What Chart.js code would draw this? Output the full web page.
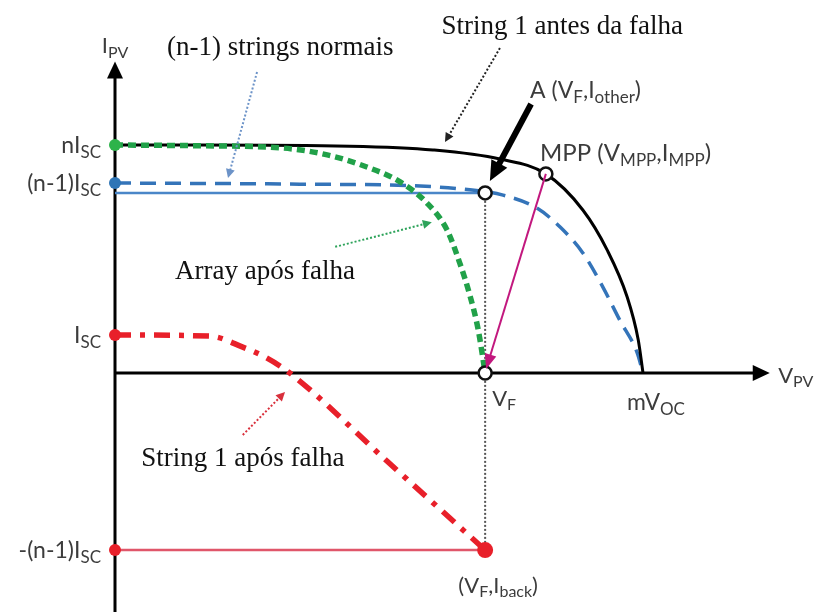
<!DOCTYPE html>
<html>
<head>
<meta charset="utf-8">
<script src="https://cdn.jsdelivr.net/npm/chart.js@4.4.1/dist/chart.umd.min.js"></script>
<style>
  html, body { margin: 0; background: #fff; }
  #wrap { width: 817px; height: 612px; }
</style>
</head>
<body>
<div id="wrap"><canvas id="iv-chart"></canvas></div>
<script>
/* Curvas I-V do arranjo: V em % de mVoc, I em múltiplos de Isc */

// String 1 antes da falha (curva do arranjo completo)
const vBefore = [0, 16, 44.5, 60.2, 72.9, 81.6, 88.6, 93.2, 97.0, 99.1, 100];
const iBefore = [6, 6, 5.97, 5.87, 5.63, 5.24, 4.29, 3.24, 2.0, 0.87, 0];

// (n-1) strings normais
const vNormal = [0, 35, 57.8, 67.2, 73.5, 79.9, 84.3, 88.6, 92.4, 95.6, 98.9, 100];
const iNormal = [5, 4.97, 4.92, 4.82, 4.68, 4.34, 3.84, 3.16, 2.26, 1.39, 0.53, 0];

// Array após falha
const vArray = [0, 16, 31.8, 40.2, 47.7, 54.0, 59.1, 62.9, 65.3, 67.2, 68.8, 70.1];
const iArray = [6, 5.98, 5.92, 5.74, 5.42, 5.03, 4.47, 3.76, 2.89, 2.05, 1.13, 0];

// String 1 após falha
const vString1 = [0, 18, 24.2, 28.8, 33.1, 51.6, 70.1];
const iString1 = [1, 0.97, 0.68, 0.39, 0, -2.33, -4.66];

// Pontos notáveis
const vF = 70.1;
const mVoc = 100;
const vMpp = 81.6;
const iMpp = 5.24;
const iOther = 4.74;
const iBack = -4.66;

// Marcas do eixo de corrente
const iTicks = [6, 5, 1, -4.66];
const iTickLabels = [
  [['nI', 0], ['SC', 1]],
  [['(n-1)I', 0], ['SC', 1]],
  [['I', 0], ['SC', 1]],
  [['-(n-1)I', 0], ['SC', 1]]
];
const iTickColors = ['#2DB34A', '#2E75B6', '#E8202A', '#E8202A'];

const SANS = 'Lato, "Liberation Sans", sans-serif';
const SERIF = '"Liberation Serif", "DejaVu Serif", serif';

const xy = (xs, ys) => xs.map((x, k) => ({ x, y: ys[k] }));

/* ── Texto com subscritos ── */
function richText(ctx, parts, x, y, align, size, color, family) {
  const subSize = Math.round(size * 0.72);
  let w = 0;
  parts.forEach(p => {
    ctx.font = (p[1] ? subSize : size) + 'px ' + family;
    w += ctx.measureText(p[0]).width;
  });
  let cx = align === 'right' ? x - w : align === 'center' ? x - w / 2 : x;
  const base = y + size * 0.35;
  ctx.fillStyle = color;
  ctx.textAlign = 'left';
  ctx.textBaseline = 'alphabetic';
  parts.forEach(p => {
    ctx.font = (p[1] ? subSize : size) + 'px ' + family;
    ctx.fillText(p[0], cx, base + (p[1] ? size * 0.2 : 0));
    cx += ctx.measureText(p[0]).width;
  });
}

/* ── Seta com ponta triangular ── */
function arrow(ctx, x1, y1, x2, y2, o) {
  const ang = Math.atan2(y2 - y1, x2 - x1);
  const hl = o.head || 8, hw = o.headW || hl * 0.5;
  ctx.save();
  ctx.strokeStyle = o.color;
  ctx.fillStyle = o.color;
  ctx.lineWidth = o.width || 1.5;
  ctx.setLineDash(o.dash || []);
  ctx.beginPath();
  ctx.moveTo(x1, y1);
  ctx.lineTo(x2 - Math.cos(ang) * hl * 0.8, y2 - Math.sin(ang) * hl * 0.8);
  ctx.stroke();
  ctx.setLineDash([]);
  ctx.beginPath();
  ctx.moveTo(x2, y2);
  ctx.lineTo(x2 - Math.cos(ang) * hl + Math.sin(ang) * hw, y2 - Math.sin(ang) * hl - Math.cos(ang) * hw);
  ctx.lineTo(x2 - Math.cos(ang) * hl - Math.sin(ang) * hw, y2 - Math.sin(ang) * hl + Math.cos(ang) * hw);
  ctx.closePath();
  ctx.fill();
  ctx.restore();
}

/* ── Eixos com setas (desenhados antes das curvas) ── */
const axesPlugin = {
  id: 'ivAxes',
  beforeDatasetsDraw(chart) {
    const { ctx, scales: { x, y } } = chart;
    const x0 = x.getPixelForValue(0), y0 = y.getPixelForValue(0);
    const yTop = y.getPixelForValue(8.2), yBot = y.getPixelForValue(-6.4);
    const xEnd = x.getPixelForValue(124);
    ctx.save();
    ctx.strokeStyle = '#000';
    ctx.lineWidth = 3;
    ctx.beginPath();
    ctx.moveTo(x0, yBot); ctx.lineTo(x0, yTop + 12);
    ctx.moveTo(x0, y0); ctx.lineTo(xEnd - 12, y0);
    ctx.stroke();
    ctx.fillStyle = '#000';
    ctx.beginPath();
    ctx.moveTo(x0, yTop); ctx.lineTo(x0 - 8, yTop + 17); ctx.lineTo(x0 + 8, yTop + 17);
    ctx.closePath(); ctx.fill();
    ctx.beginPath();
    ctx.moveTo(xEnd, y0); ctx.lineTo(xEnd - 17, y0 - 8); ctx.lineTo(xEnd - 17, y0 + 8);
    ctx.closePath(); ctx.fill();
    ctx.restore();
  }
};

/* ── Rótulos e setas de anotação ── */
const labelsPlugin = {
  id: 'ivLabels',
  afterDatasetsDraw(chart) {
    const { ctx, scales: { x, y } } = chart;
    const X = v => x.getPixelForValue(v), Y = v => y.getPixelForValue(v);
    const grey = '#3c3c3c';
    ctx.save();

    // marcas do eixo de corrente
    iTicks.forEach((t, k) => {
      richText(ctx, iTickLabels[k], X(0) - 14, Y(t), 'right', 23, grey, SANS);
    });
    richText(ctx, [['I', 0], ['PV', 1]], X(0), Y(8.62), 'center', 22, grey, SANS);
    richText(ctx, [['V', 0], ['PV', 1]], X(125.6), Y(-0.05), 'left', 22, grey, SANS);
    richText(ctx, [['V', 0], ['F', 1]], X(vF) + 7, Y(-0.66), 'left', 22, grey, SANS);
    richText(ctx, [['mV', 0], ['OC', 1]], X(mVoc) - 16, Y(-0.76), 'left', 23, grey, SANS);
    richText(ctx, [['(V', 0], ['F', 1], [',I', 0], ['back', 1], [')', 0]], X(vF) + 13, Y(-5.58), 'center', 22, grey, SANS);
    richText(ctx, [['A (V', 0], ['F', 1], [',I', 0], ['other', 1], [')', 0]], X(78.6), Y(7.45), 'left', 23, grey, SANS);
    richText(ctx, [['MPP (V', 0], ['MPP', 1], [',I', 0], ['MPP', 1], [')', 0]], X(80.5), Y(5.79), 'left', 24, grey, SANS);

    // títulos das curvas
    const serif = (t, vx, vy) => richText(ctx, [[t, 0]], X(vx), Y(vy), 'center', 27, '#111', SERIF);
    serif('(n-1) strings normais', 31.3, 8.63);
    serif('String 1 antes da falha', 84.7, 9.18);
    serif('Array após falha', 28.4, 2.71);
    serif('String 1 após falha', 24.2, -2.21);

    // setas pontilhadas
    arrow(ctx, X(26.9), Y(7.92), X(21.4), Y(5.13), { color: '#6C93C8', width: 2, dash: [2, 2], head: 9 });
    arrow(ctx, X(72.9), Y(8.55), X(62.5), Y(6.08), { color: '#222', width: 2, dash: [2, 2], head: 9 });
    arrow(ctx, X(41.7), Y(3.32), X(60.0), Y(3.97), { color: '#2DA35A', width: 2, dash: [2, 2], head: 9 });
    arrow(ctx, X(24.2), Y(-1.63), X(32.2), Y(-0.5), { color: '#D9303C', width: 2, dash: [2, 2], head: 9 });
    // seta grossa para o ponto A
    arrow(ctx, X(78.8), Y(7.08), X(71.0), Y(5.05), { color: '#000', width: 6, head: 20, headW: 9 });
    // seta MPP -> VF
    arrow(ctx, X(vMpp), Y(iMpp), X(vF) + 1, Y(0) - 4, { color: '#C2187E', width: 2, head: 15, headW: 6 });
    ctx.restore();
  }
};

const openPts = [{ x: vF, y: iOther }, { x: vMpp, y: iMpp }, { x: vF, y: 0 }];

new Chart(document.getElementById('iv-chart'), {
  type: 'line',
  data: {
    datasets: [
      {
        label: 'pontos',
        data: openPts,
        showLine: false,
        pointRadius: 6.5,
        pointBorderWidth: 2.5,
        pointBackgroundColor: '#fff',
        pointBorderColor: '#111',
        order: 0
      },
      {
        label: 'eixo',
        data: iTicks.map(t => ({ x: 0, y: t })).concat([{ x: vF, y: iBack }]),
        showLine: false,
        pointRadius: [6, 6, 6, 6, 8],
        pointBorderWidth: 0,
        pointBackgroundColor: iTickColors.concat(['#E8202A']),
        order: 1
      },
      {
        label: 'String 1 após falha',
        data: xy(vString1, iString1),
        borderColor: '#E8202A',
        borderWidth: 5.5,
        borderDash: [16, 9, 5, 9],
        cubicInterpolationMode: 'monotone',
        pointRadius: 0,
        order: 2
      },
      {
        label: 'Array após falha',
        data: xy(vArray, iArray),
        borderColor: '#21A149',
        borderWidth: 5.5,
        borderDash: [8, 5],
        cubicInterpolationMode: 'monotone',
        pointRadius: 0,
        order: 3
      },
      {
        label: 'String 1 antes da falha',
        data: xy(vBefore, iBefore),
        borderColor: '#000',
        borderWidth: 3,
        cubicInterpolationMode: 'monotone',
        pointRadius: 0,
        order: 4
      },
      {
        label: '(n-1) strings normais',
        data: xy(vNormal, iNormal),
        borderColor: '#3474B9',
        borderWidth: 3.5,
        borderDash: [16, 9],
        cubicInterpolationMode: 'monotone',
        pointRadius: 0,
        order: 5
      },
      {
        label: 'Iother',
        data: [{ x: 0, y: iOther }, { x: vF, y: iOther }],
        borderColor: '#4A86C8',
        borderWidth: 2.5,
        pointRadius: 0,
        order: 6
      },
      {
        label: 'Iback',
        data: [{ x: 0, y: iBack }, { x: vF, y: iBack }],
        borderColor: '#E0566A',
        borderWidth: 2.5,
        pointRadius: 0,
        order: 6
      },
      {
        label: 'VF',
        data: [{ x: vF, y: iOther }, { x: vF, y: iBack }],
        borderColor: '#555',
        borderWidth: 2,
        borderDash: [2, 2],
        pointRadius: 0,
        order: 7
      }
    ]
  },
  options: {
    responsive: true,
    maintainAspectRatio: false,
    animation: false,
    layout: { padding: 0, autoPadding: false },
    plugins: { legend: { display: false }, tooltip: { enabled: false } },
    scales: {
      x: { type: 'linear', display: false, min: -21.78, max: 132.95 },
      y: { type: 'linear', display: false, min: -6.29, max: 9.816 }
    }
  },
  plugins: [axesPlugin, labelsPlugin]
});
</script>
</body>
</html>
